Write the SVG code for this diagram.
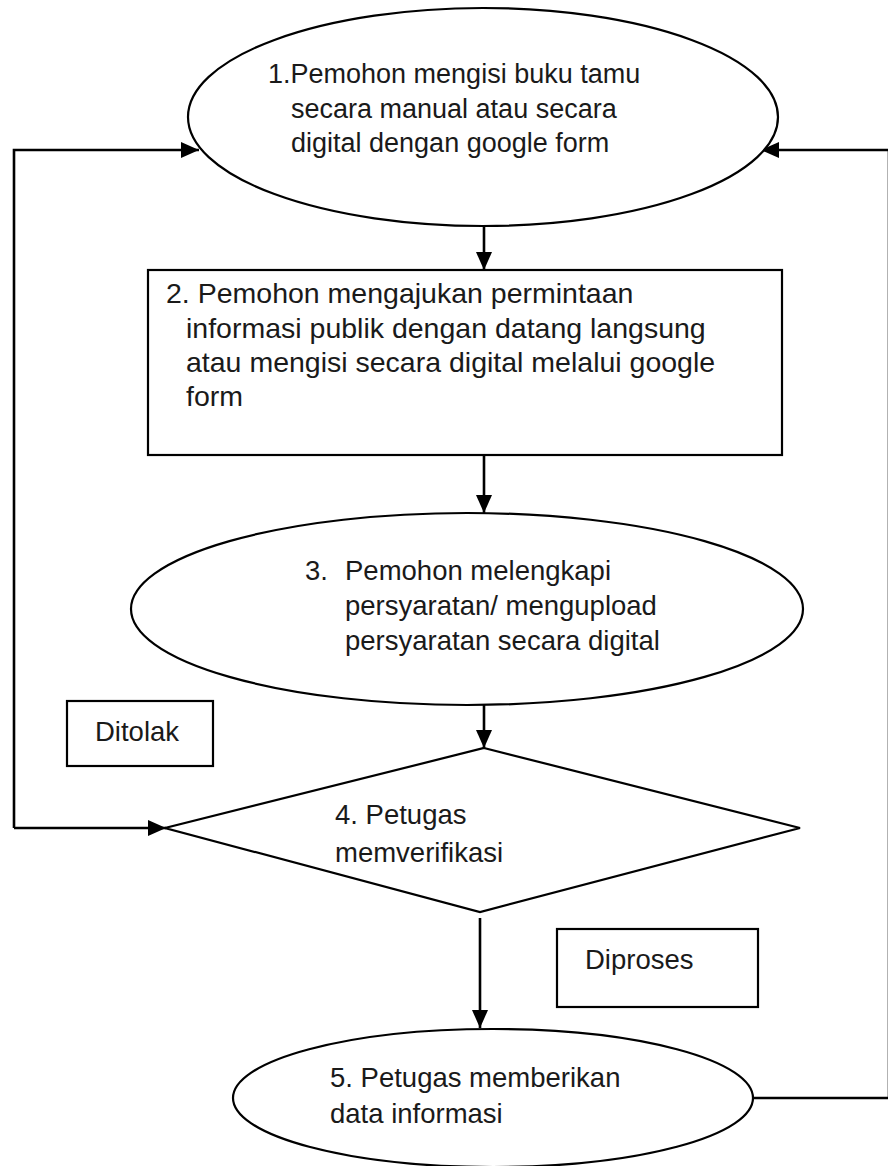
<svg xmlns="http://www.w3.org/2000/svg" width="888" height="1166" viewBox="0 0 888 1166">
<defs>
<marker id="arr" viewBox="0 0 18 16" refX="18" refY="8" markerWidth="18" markerHeight="16" markerUnits="userSpaceOnUse" orient="auto">
<path d="M0,0 L18,8 L0,16 z" fill="#000"/>
</marker>
<style>
.shape{fill:#fff;stroke:#000;stroke-width:2.2}
.conn{fill:none;stroke:#000;stroke-width:2.6}
.t{font-family:"Liberation Sans",Arial,sans-serif;font-size:27.5px;fill:#1a1a1a}
.t1{font-size:27px}
.t2{font-size:28.5px}
</style>
</defs>
<rect width="888" height="1166" fill="#fff"/>
<g id="connectors">
<path class="conn" d="M484,226 L484,270" marker-end="url(#arr)"/>
<path class="conn" d="M484,455 L484,513" marker-end="url(#arr)"/>
<path class="conn" d="M484,705 L484,748" marker-end="url(#arr)"/>
<path class="conn" d="M480,918 L480,1028" marker-end="url(#arr)"/>
<path class="conn" d="M14,828 L14,150 L199,150" marker-end="url(#arr)"/>
<path class="conn" d="M14,828 L166,828" marker-end="url(#arr)"/>
<path class="conn" d="M753,1098 L889,1098 L889,150 L761,150" marker-end="url(#arr)"/>
</g>
<g id="node1">
<ellipse class="shape" cx="483" cy="117" rx="295" ry="109"/>
<text class="t t1" x="268" y="83">1.Pemohon mengisi buku tamu</text>
<text class="t t1" x="291" y="118">secara manual atau secara</text>
<text class="t t1" x="291" y="152">digital dengan google form</text>
</g>
<g id="node2">
<rect class="shape" x="148" y="270" width="634" height="185"/>
<text class="t t2" x="166" y="303">2. Pemohon mengajukan permintaan</text>
<text class="t t2" x="186" y="338">informasi publik dengan datang langsung</text>
<text class="t t2" x="186" y="372">atau mengisi secara digital melalui google</text>
<text class="t t2" x="186" y="406">form</text>
</g>
<g id="node3">
<ellipse class="shape" cx="467" cy="609" rx="336" ry="96"/>
<text class="t" x="305" y="580">3.</text>
<text class="t" x="345" y="580">Pemohon melengkapi</text>
<text class="t" x="345" y="615">persyaratan/ mengupload</text>
<text class="t" x="345" y="650">persyaratan secara digital</text>
</g>
<g id="label-ditolak">
<rect class="shape" x="67" y="701" width="146" height="65"/>
<text class="t" x="95" y="741">Ditolak</text>
</g>
<g id="node4">
<polygon class="shape" points="484,748 800,828 480,912 165,828"/>
<text class="t" x="335" y="824">4. Petugas</text>
<text class="t" x="335" y="862">memverifikasi</text>
</g>
<g id="label-diproses">
<rect class="shape" x="557" y="929" width="201" height="78"/>
<text class="t" x="585" y="969">Diproses</text>
</g>
<g id="node5">
<ellipse class="shape" cx="493" cy="1098" rx="260" ry="69"/>
<text class="t" x="330" y="1087">5. Petugas memberikan</text>
<text class="t" x="330" y="1123">data informasi</text>
</g>
</svg>
